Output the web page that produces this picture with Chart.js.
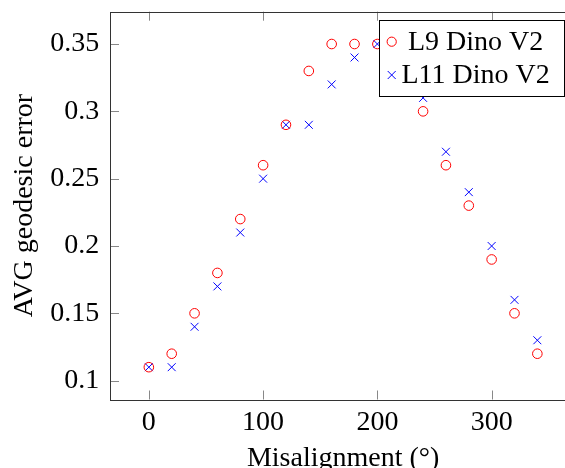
<!DOCTYPE html>
<html>
<head>
<meta charset="utf-8">
<script src="https://cdn.jsdelivr.net/npm/chart.js@4/dist/chart.umd.min.js"></script>
<style>
  html, body { margin: 0; padding: 0; background: #fff; overflow: hidden; }
  #wrap { width: 600px; height: 468px; }
</style>
</head>
<body>
<div id="wrap"><canvas id="myChart" width="600" height="468"></canvas></div>
<script>
var angles = [0, 20, 40, 60, 80, 100, 120, 140, 160, 180, 200, 220, 240, 260, 280, 300, 320, 340];
var l9 = [0.11, 0.12, 0.15, 0.18, 0.22, 0.26, 0.29, 0.33, 0.35, 0.35, 0.35, 0.34, 0.30, 0.26, 0.23, 0.19, 0.15, 0.12];
var l11 = [0.11, 0.11, 0.14, 0.17, 0.21, 0.25, 0.29, 0.29, 0.32, 0.34, 0.35, 0.33, 0.31, 0.27, 0.24, 0.20, 0.16, 0.13];
var xTicks = [0, 100, 200, 300];
var yTicks = [0.1, 0.15, 0.2, 0.25, 0.3, 0.35];
var seriesNames = ['L9 Dino V2', 'L11 Dino V2'];

var serif = 'Liberation Serif';

function toPoints(ys) {
    return angles.map(function (a, i) { return { x: a, y: ys[i] }; });
}

// frame with inward ticks, like pgfplots
var framePlugin = {
    id: 'frame',
    beforeDatasetsDraw: function (chart) {
        var ctx = chart.ctx, a = chart.chartArea;
        var xs = chart.scales.x, ys = chart.scales.y;
        var len = 9;
        ctx.save();
        ctx.lineWidth = 1;
        ctx.strokeStyle = '#888';
        ctx.beginPath();
        xTicks.forEach(function (v) {
            var px = Math.round(xs.getPixelForValue(v)) + 0.5;
            ctx.moveTo(px, a.bottom); ctx.lineTo(px, a.bottom - len);
            ctx.moveTo(px, a.top); ctx.lineTo(px, a.top + len);
        });
        yTicks.forEach(function (v) {
            var py = Math.round(ys.getPixelForValue(v)) + 0.5;
            ctx.moveTo(a.left, py); ctx.lineTo(a.left + len, py);
            ctx.moveTo(a.right, py); ctx.lineTo(a.right - len, py);
        });
        ctx.stroke();
        ctx.strokeStyle = '#333';
        ctx.strokeRect(Math.round(a.left) + 0.5, Math.round(a.top) + 0.5,
            Math.round(a.right - a.left), Math.round(a.bottom - a.top));
        ctx.restore();
    },
    afterDatasetsDraw: function (chart) {
        // legend box in the upper right, drawn over the marks
        var ctx = chart.ctx;
        var bx = 379.5, by = 20.5, bw = 185, bh = 76;
        ctx.save();
        ctx.fillStyle = '#fff';
        ctx.fillRect(bx, by, bw, bh);
        ctx.strokeStyle = '#000';
        ctx.lineWidth = 1;
        ctx.strokeRect(bx, by, bw, bh);

        ctx.strokeStyle = 'red';
        ctx.beginPath();
        ctx.arc(391.7, 41.7, 4.6, 0, Math.PI * 2);
        ctx.stroke();

        ctx.strokeStyle = 'blue';
        ctx.beginPath();
        ctx.moveTo(387.7, 71); ctx.lineTo(395.7, 79);
        ctx.moveTo(395.7, 71); ctx.lineTo(387.7, 79);
        ctx.stroke();

        ctx.fillStyle = '#000';
        ctx.font = '28px "' + serif + '"';
        ctx.textBaseline = 'alphabetic';
        ctx.textAlign = 'left';
        ctx.fillText(seriesNames[0], 408, 49.5);
        ctx.fillText(seriesNames[1], 401.5, 83);
        ctx.restore();
    }
};

var ctx = document.getElementById('myChart').getContext('2d');
var myChart = new Chart(ctx, {
    type: 'scatter',
    data: {
        datasets: [{
            label: seriesNames[0],
            data: toPoints(l9),
            pointStyle: 'circle',
            pointRadius: 4.8,
            pointBorderWidth: 1,
            borderColor: 'red',
            backgroundColor: 'rgba(0,0,0,0)'
        }, {
            label: seriesNames[1],
            data: toPoints(l11),
            pointStyle: 'crossRot',
            pointRadius: 5.6,
            pointBorderWidth: 1,
            borderColor: 'blue',
            backgroundColor: 'blue'
        }]
    },
    options: {
        responsive: false,
        animation: false,
        layout: {
            padding: { top: 11.7, right: 23.8, left: 0, bottom: 0 }
        },
        plugins: {
            legend: { display: false },
            tooltip: { enabled: false }
        },
        scales: {
            x: {
                type: 'linear',
                min: -34,
                max: 374,
                afterBuildTicks: function (s) {
                    s.ticks = xTicks.map(function (v) { return { value: v }; });
                },
                afterFit: function (s) {
                    s.height = 68.5;
                    s.paddingLeft = 0;
                    s.paddingRight = 0;
                },
                grid: { display: false, drawTicks: false },
                border: { display: false },
                ticks: {
                    color: '#000',
                    padding: 6,
                    maxRotation: 0,
                    font: { family: serif, size: 28 },
                    callback: function (v) { return String(v); }
                },
                title: {
                    display: true,
                    text: 'Misalignment (°)',
                    color: '#000',
                    font: { family: serif, size: 28 },
                    padding: { top: 0, bottom: -7 }
                }
            },
            y: {
                type: 'linear',
                min: 0.086,
                max: 0.374,
                afterBuildTicks: function (s) {
                    s.ticks = yTicks.map(function (v) { return { value: v }; });
                },
                afterFit: function (s) {
                    s.width = 110;
                    s.paddingTop = 0;
                    s.paddingBottom = 0;
                },
                grid: { display: false, drawTicks: false },
                border: { display: false },
                ticks: {
                    color: '#000',
                    padding: 10.7,
                    font: { family: serif, size: 28 },
                    callback: function (v) { return String(v); }
                },
                title: {
                    display: true,
                    text: 'AVG geodesic error',
                    color: '#000',
                    font: { family: serif, size: 28 },
                    padding: { top: 8, bottom: 0 }
                }
            }
        }
    },
    plugins: [framePlugin]
});
</script>
</body>
</html>
